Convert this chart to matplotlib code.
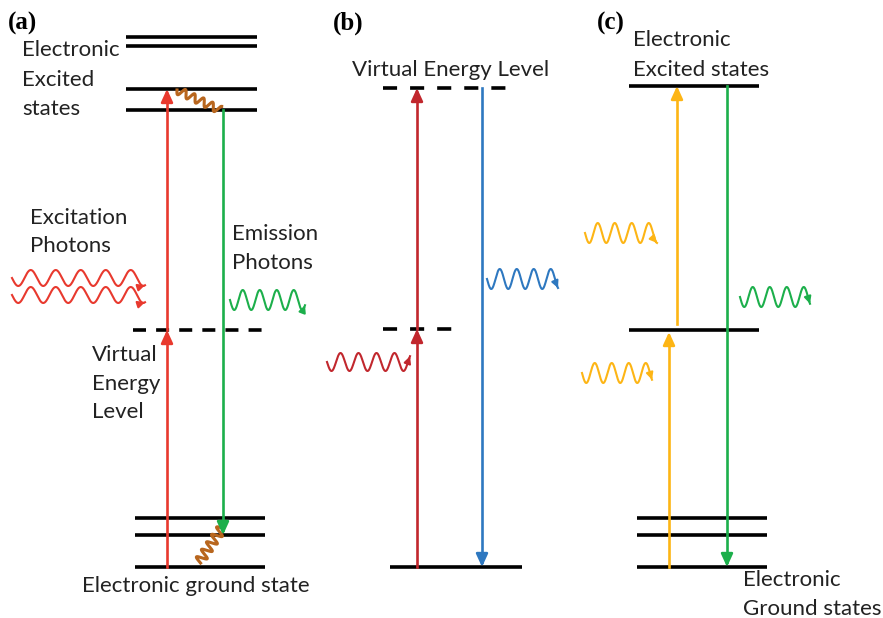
import numpy as np
import matplotlib.pyplot as plt

# colours
ROJO = '#E8392E'
ROJO_B = '#C1272D'
VERDE = '#1CAF4B'
AZUL = '#2E78C0'
NARANJA = '#FDB515'
CAFE = '#B8661E'

# --- panel (a) ---
a_niveles_sup = [37, 46, 89, 110]
a_niveles_inf = [518, 535, 567]
a_virtual = 330
a_x_sup = (126, 257)
a_x_inf = (135, 265)
a_x_virt = (133, 262)
a_x_exc = 167
a_x_emi = 223

# --- panel (b) ---
b_virtual_sup = 88
b_virtual_med = 329
b_suelo = 567
b_x_virt_sup = (383, 507)
b_x_virt_med = (383, 452)
b_x_suelo = (390, 522)
b_x_exc = 417
b_x_emi = 482

# --- panel (c) ---
c_nivel_sup = 86
c_nivel_med = 330
c_niveles_inf = [518, 535, 567]
c_x_niv = (629, 759)
c_x_inf = (637, 767)
c_x_exc1 = 669
c_x_exc2 = 677
c_x_emi = 727

# fotones: (x0, y0, x1, y1, amplitud, periodo, color)
fotones = [
    (12, 278, 145, 278, 8, 25, ROJO),
    (12, 295, 145, 295, 8, 25, ROJO),
    (230, 300, 305, 300, 10, 17, VERDE),
    (327, 362, 410, 362, 9, 18, ROJO_B),
    (487, 279, 558, 279, 10, 17, AZUL),
    (585, 233, 657, 233, 10, 17, NARANJA),
    (582, 373, 652, 373, 10, 17, NARANJA),
    (740, 297, 810, 297, 10, 17, VERDE),
]
# relajacion no radiativa
relajaciones = [
    (177, 90, 220, 110, 4, 10, CAFE),
    (222, 528, 199, 562, 5, 9, CAFE),
]

fig = plt.figure(figsize=(8.83, 6.18), dpi=100)
ax = fig.add_axes([0, 0, 1, 1])
ax.set_xlim(0, 883)
ax.set_ylim(618, 0)
ax.axis('off')

FUENTE = 'Lato'
TAM = 16
LW_NIV = 2.6
LW_FL = 1.9


def nivel(x, y, dash=None):
    if dash:
        ax.plot(x, [y, y], color='black', lw=LW_NIV, dashes=dash,
                dash_capstyle='butt')
    else:
        ax.plot(x, [y, y], color='black', lw=LW_NIV, solid_capstyle='butt')


def punta(x, y, color, arriba=True):
    d = 10 if arriba else -10
    ax.annotate('', xy=(x, y), xytext=(x, y + d),
                arrowprops=dict(arrowstyle='-|>,head_length=0.7,head_width=0.32',
                                color=color, lw=LW_FL, shrinkA=0, shrinkB=0,
                                mutation_scale=11))


def flecha(x, y0, y1, color):
    # linea de y0 a y1 con punta en y1
    ax.plot([x, x], [y0, y1 + (5 if y1 < y0 else -5)], color=color, lw=LW_FL)
    punta(x, y1, color, arriba=y1 < y0)


def onda(x0, y0, x1, y1, amp, per, color, lw=1.5, cabeza=True):
    L = np.hypot(x1 - x0, y1 - y0)
    ux, uy = (x1 - x0) / L, (y1 - y0) / L
    px, py = -uy, ux
    t = np.linspace(0, L, 300)
    off = amp * np.sin(2 * np.pi * t / per)
    xs = x0 + ux * t + px * off
    ys = y0 + uy * t + py * off
    ax.plot(xs, ys, color=color, lw=lw)
    if cabeza:
        ax.annotate('', xy=(xs[-1], ys[-1]), xytext=(xs[-6], ys[-6]),
                    arrowprops=dict(arrowstyle='-|>,head_length=0.5,head_width=0.25',
                                    color=color, lw=lw, shrinkA=0, shrinkB=0,
                                    mutation_scale=8))


def texto(x, y, s, **kw):
    ax.text(x, y, s, fontsize=TAM, family=FUENTE, va='center', ha='left',
            color='#222222', **kw)


def etiqueta(x, y, s):
    ax.text(x, y, s, fontsize=18, family='Liberation Serif', weight='bold',
            va='center', ha='left')


# panel (a)
for y in a_niveles_sup:
    nivel(a_x_sup, y)
for y in a_niveles_inf:
    nivel(a_x_inf, y)
nivel(a_x_virt, a_virtual, dash=(3.6, 2.8))
ax.plot([a_x_exc, a_x_exc], [a_niveles_inf[-1], a_virtual + 5], color=ROJO, lw=LW_FL)
punta(a_x_exc, a_virtual, ROJO)
flecha(a_x_exc, a_virtual, a_niveles_sup[2], ROJO)
flecha(a_x_emi, a_niveles_sup[3], a_niveles_inf[1], VERDE)
etiqueta(8, 23, '(a)')
texto(22, 50, 'Electronic')
texto(22, 80, 'Excited')
texto(22, 109, 'states')
texto(30, 218, 'Excitation')
texto(30, 246, 'Photons')
texto(232, 234, 'Emission')
texto(232, 263, 'Photons')
texto(92, 355, 'Virtual')
texto(92, 384, 'Energy')
texto(92, 412, 'Level')
texto(82, 586, 'Electronic ground state')

# panel (b)
nivel(b_x_virt_sup, b_virtual_sup, dash=(3.9, 3.6))
nivel(b_x_virt_med, b_virtual_med, dash=(3.9, 3.6))
nivel(b_x_suelo, b_suelo)
ax.plot([b_x_exc, b_x_exc], [b_suelo, b_virtual_med + 5], color=ROJO_B, lw=LW_FL)
punta(b_x_exc, b_virtual_med, ROJO_B)
flecha(b_x_exc, b_virtual_med, b_virtual_sup, ROJO_B)
flecha(b_x_emi, b_virtual_sup, b_suelo, AZUL)
etiqueta(333, 23, '(b)')
texto(352, 70, 'Virtual Energy Level')

# panel (c)
nivel(c_x_niv, c_nivel_sup)
nivel(c_x_niv, c_nivel_med)
for y in c_niveles_inf:
    nivel(c_x_inf, y)
flecha(c_x_exc1, c_niveles_inf[-1], c_nivel_med + 2, NARANJA)
flecha(c_x_exc2, c_nivel_med - 6, c_nivel_sup, NARANJA)
flecha(c_x_emi, c_nivel_sup, c_niveles_inf[-1], VERDE)
etiqueta(597, 23, '(c)')
texto(633, 40, 'Electronic')
texto(633, 70, 'Excited states')
texto(743, 580, 'Electronic')
texto(743, 609, 'Ground states')

for f in fotones:
    onda(*f)
for r in relajaciones:
    onda(*r, lw=2.2, cabeza=False)

fig.savefig('out.png', dpi=100)
